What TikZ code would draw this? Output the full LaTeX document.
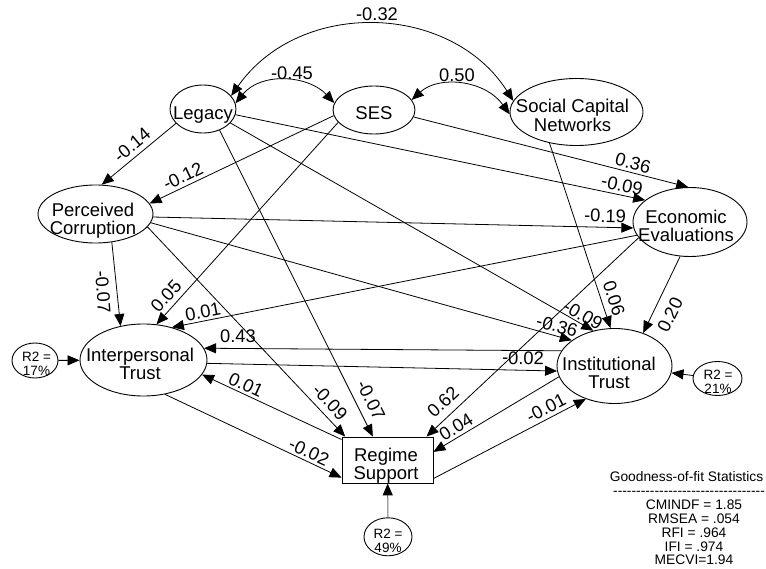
\documentclass[tikz,border=0pt]{standalone}
\usepackage{fontspec}
\setmainfont{Liberation Sans}
\usetikzlibrary{shapes.geometric,arrows.meta}
\newcommand{\hyph}{\mbox{-}}
\begin{document}
\begin{tikzpicture}[x=1pt,y=-1pt,
  var/.style={draw, ellipse, line width=0.9pt, inner sep=0pt},
  box/.style={draw, rectangle, line width=0.9pt, inner sep=0pt},
  vtext/.style={font=\fontsize{18.5}{18.3}\selectfont, align=center, inner sep=0pt},
  coef/.style={font=\fontsize{18.3}{18.3}\selectfont, inner sep=0pt},
  rtext/.style={font=\fontsize{13.5}{14}\selectfont, align=center, inner sep=0pt},
  stat/.style={font=\fontsize{13.8}{13.75}\selectfont, align=center, inner sep=0pt},
  arr/.style={-{Triangle[length=12pt,width=10pt]}, line width=0.8pt},
  dblarr/.style={{Triangle[length=12pt,width=10pt]}-{Triangle[length=12pt,width=10pt]}, line width=0.8pt},
  errarr/.style={-{Triangle[length=12pt,width=10pt,color=black]}, line width=1pt}
]
\useasboundingbox[fill=white] (0,0) rectangle (766,569);

% variables
\node[var, minimum width=66pt, minimum height=48pt] (leg) at (203,109) {};
\node[vtext] (legt) at (203,115.3) {Legacy};
\node[var, minimum width=82pt, minimum height=48pt] (ses) at (374,110) {};
\node[vtext] (sest) at (374,113.5) {SES};
\node[var, minimum width=133pt, minimum height=67pt] (scn) at (576.5,112) {};
\node[vtext] (scnt) at (572.5,115.5) {Social Capital\\Networks};
\node[var, minimum width=115pt, minimum height=58pt] (pc) at (95.5,214) {};
\node[vtext] (pct) at (93,220.7) {Perceived\\Corruption};
\node[var, minimum width=114pt, minimum height=69pt] (ee) at (690,222) {};
\node[vtext] (eet) at (686,225.8) {Economic\\Evaluations};
\node[var, minimum width=127pt, minimum height=72pt] (ipt) at (143.5,360) {};
\node[vtext] (iptt) at (140,364) {Interpersonal\\Trust};
\node[var, minimum width=115pt, minimum height=75pt] (it) at (614.5,366) {};
\node[vtext] (itt) at (609,372.8) {Institutional\\Trust};
\node[box, minimum width=91pt, minimum height=46pt] (rs) at (387.5,460) {};
\node[vtext] (rst) at (386,466) {Regime\\Support};

% residual R2 nodes
\node[var, minimum width=46pt, minimum height=35pt] (r2a) at (35,360.5) {};
\node[rtext] (r2at) at (36.5,363.5) {R2 =\\17\%};
\node[var, minimum width=49pt, minimum height=34pt] (r2b) at (717.5,378.5) {};
\node[rtext] (r2bt) at (718,382) {R2 =\\21\%};
\node[var, minimum width=48pt, minimum height=38pt] (r2c) at (388,536.8) {};
\node[rtext] (r2ct) at (388,540.8) {R2 =\\49\%};

% covariances
\draw[dblarr] (leg.25) .. controls (300,-2) and (451,3) .. (scn.170);
\draw[dblarr] (leg.10) .. controls (261,72) and (308,75) .. (ses.170);
\draw[dblarr] (ses.15) .. controls (439,75) and (485,80) .. (scn.182);

% paths
\draw[arr] (leg.208) -- (pc.78);
\draw[arr] (ses.188) -- (pc.11);
\draw[arr] (ses.199) -- (ipt.70);
\draw[arr] (ses.-10) -- (ee.93);
\draw[arr] (leg.-10) -- (ee.154);
\draw[arr] (leg.-27) -- (it.121);
\draw[arr] (leg.-52) -- (rs.122);
\draw[arr] (pc.-60) -- (ipt.124);
\draw[arr] (pc.-3) -- (ee.186);
\draw[arr] (pc.-9) -- (it.149);
\draw[arr] (pc.-14.5) -- (rs.151);
\draw[arr] (ee.194) -- (ipt.49);
\draw[arr] (ee.197) -- (rs.31.5);
\draw[arr] (ee.254) -- (it.49.5);
\draw[arr] (scn.229) -- (it.96);
\draw[arr] (it.164) -- (ipt.11.5);
\draw[arr] (ipt.-3.6) -- (it.185);
\draw[arr] (it.191) -- (rs.10);
\draw[arr] (rs.-22) -- (it.229.5);
\draw[arr] (ipt.-58) -- (rs.201.6);
\draw[arr] (rs.156) -- (ipt.-14);
\draw[arr] (r2a) -- (ipt);
\draw[arr] (r2b) -- (it);
\draw[errarr, draw=black!55] (r2c) -- (rs);

% coefficients
\node[coef] (c1) at (377,14) {-0.32};
\node[coef] (c2) at (292,73) {-0.45};
\node[coef] (c3) at (457,75) {0.50};
\node[coef, rotate=40] (c4) at (132,145) {-0.14};
\node[coef, rotate=25.5] (c5) at (183,176) {-0.12};
\node[coef, rotate=-14.7] (c6) at (633,163) {0.36};
\node[coef, rotate=-12] (c7) at (622,185) {-0.09};
\node[coef, rotate=-1.4] (c8) at (605,216) {-0.19};
\node[coef, rotate=47.6] (c9) at (166,296) {0.05};
\node[coef, rotate=-86] (c10) at (103,292) {-0.07};
\node[coef, rotate=11] (c11) at (203,312) {0.01};
\node[coef] (c12) at (238,336) {0.43};
\node[coef, rotate=-1] (c13) at (523,358) {-0.02};
\node[coef, rotate=-25] (c14) at (246,385) {0.01};
\node[coef, rotate=-25] (c15) at (309,452) {-0.02};
\node[coef, rotate=-47] (c16) at (330,402) {-0.09};
\node[coef, rotate=-63] (c17) at (371,400) {-0.07};
\node[coef, rotate=43] (c18) at (443,402) {0.62};
\node[coef, rotate=31.5] (c19) at (456,427) {0.04};
\node[coef, rotate=27] (c20) at (546,408) {-0.01};
\node[coef, rotate=-30] (c21) at (583,315) {-0.09};
\node[coef, rotate=-15.5] (c22) at (557,326) {-0.36};
\node[coef, rotate=-72] (c23) at (614,298) {0.06};
\node[coef, rotate=64] (c24) at (670,315) {0.20};

% goodness of fit
\node[stat] (gtitle) at (686.5,476.7) {Goodness-of-fit Statistics};
\node[stat, anchor=west] (gdash) at (613,493.4) {\hyph\hyph\hyph\hyph\hyph\hyph\hyph\hyph\hyph\hyph\hyph\hyph\hyph\hyph\hyph\hyph\hyph\hyph\hyph\hyph\hyph\hyph\hyph\hyph\hyph\hyph\hyph\hyph\hyph\hyph\hyph\hyph\hyph};
\node[stat] (gstats) at (694,532.5) {CMINDF = 1.85\\RMSEA = .054\\RFI = .964\\IFI = .974\\MECVI=1.94};
\end{tikzpicture}
\end{document}
